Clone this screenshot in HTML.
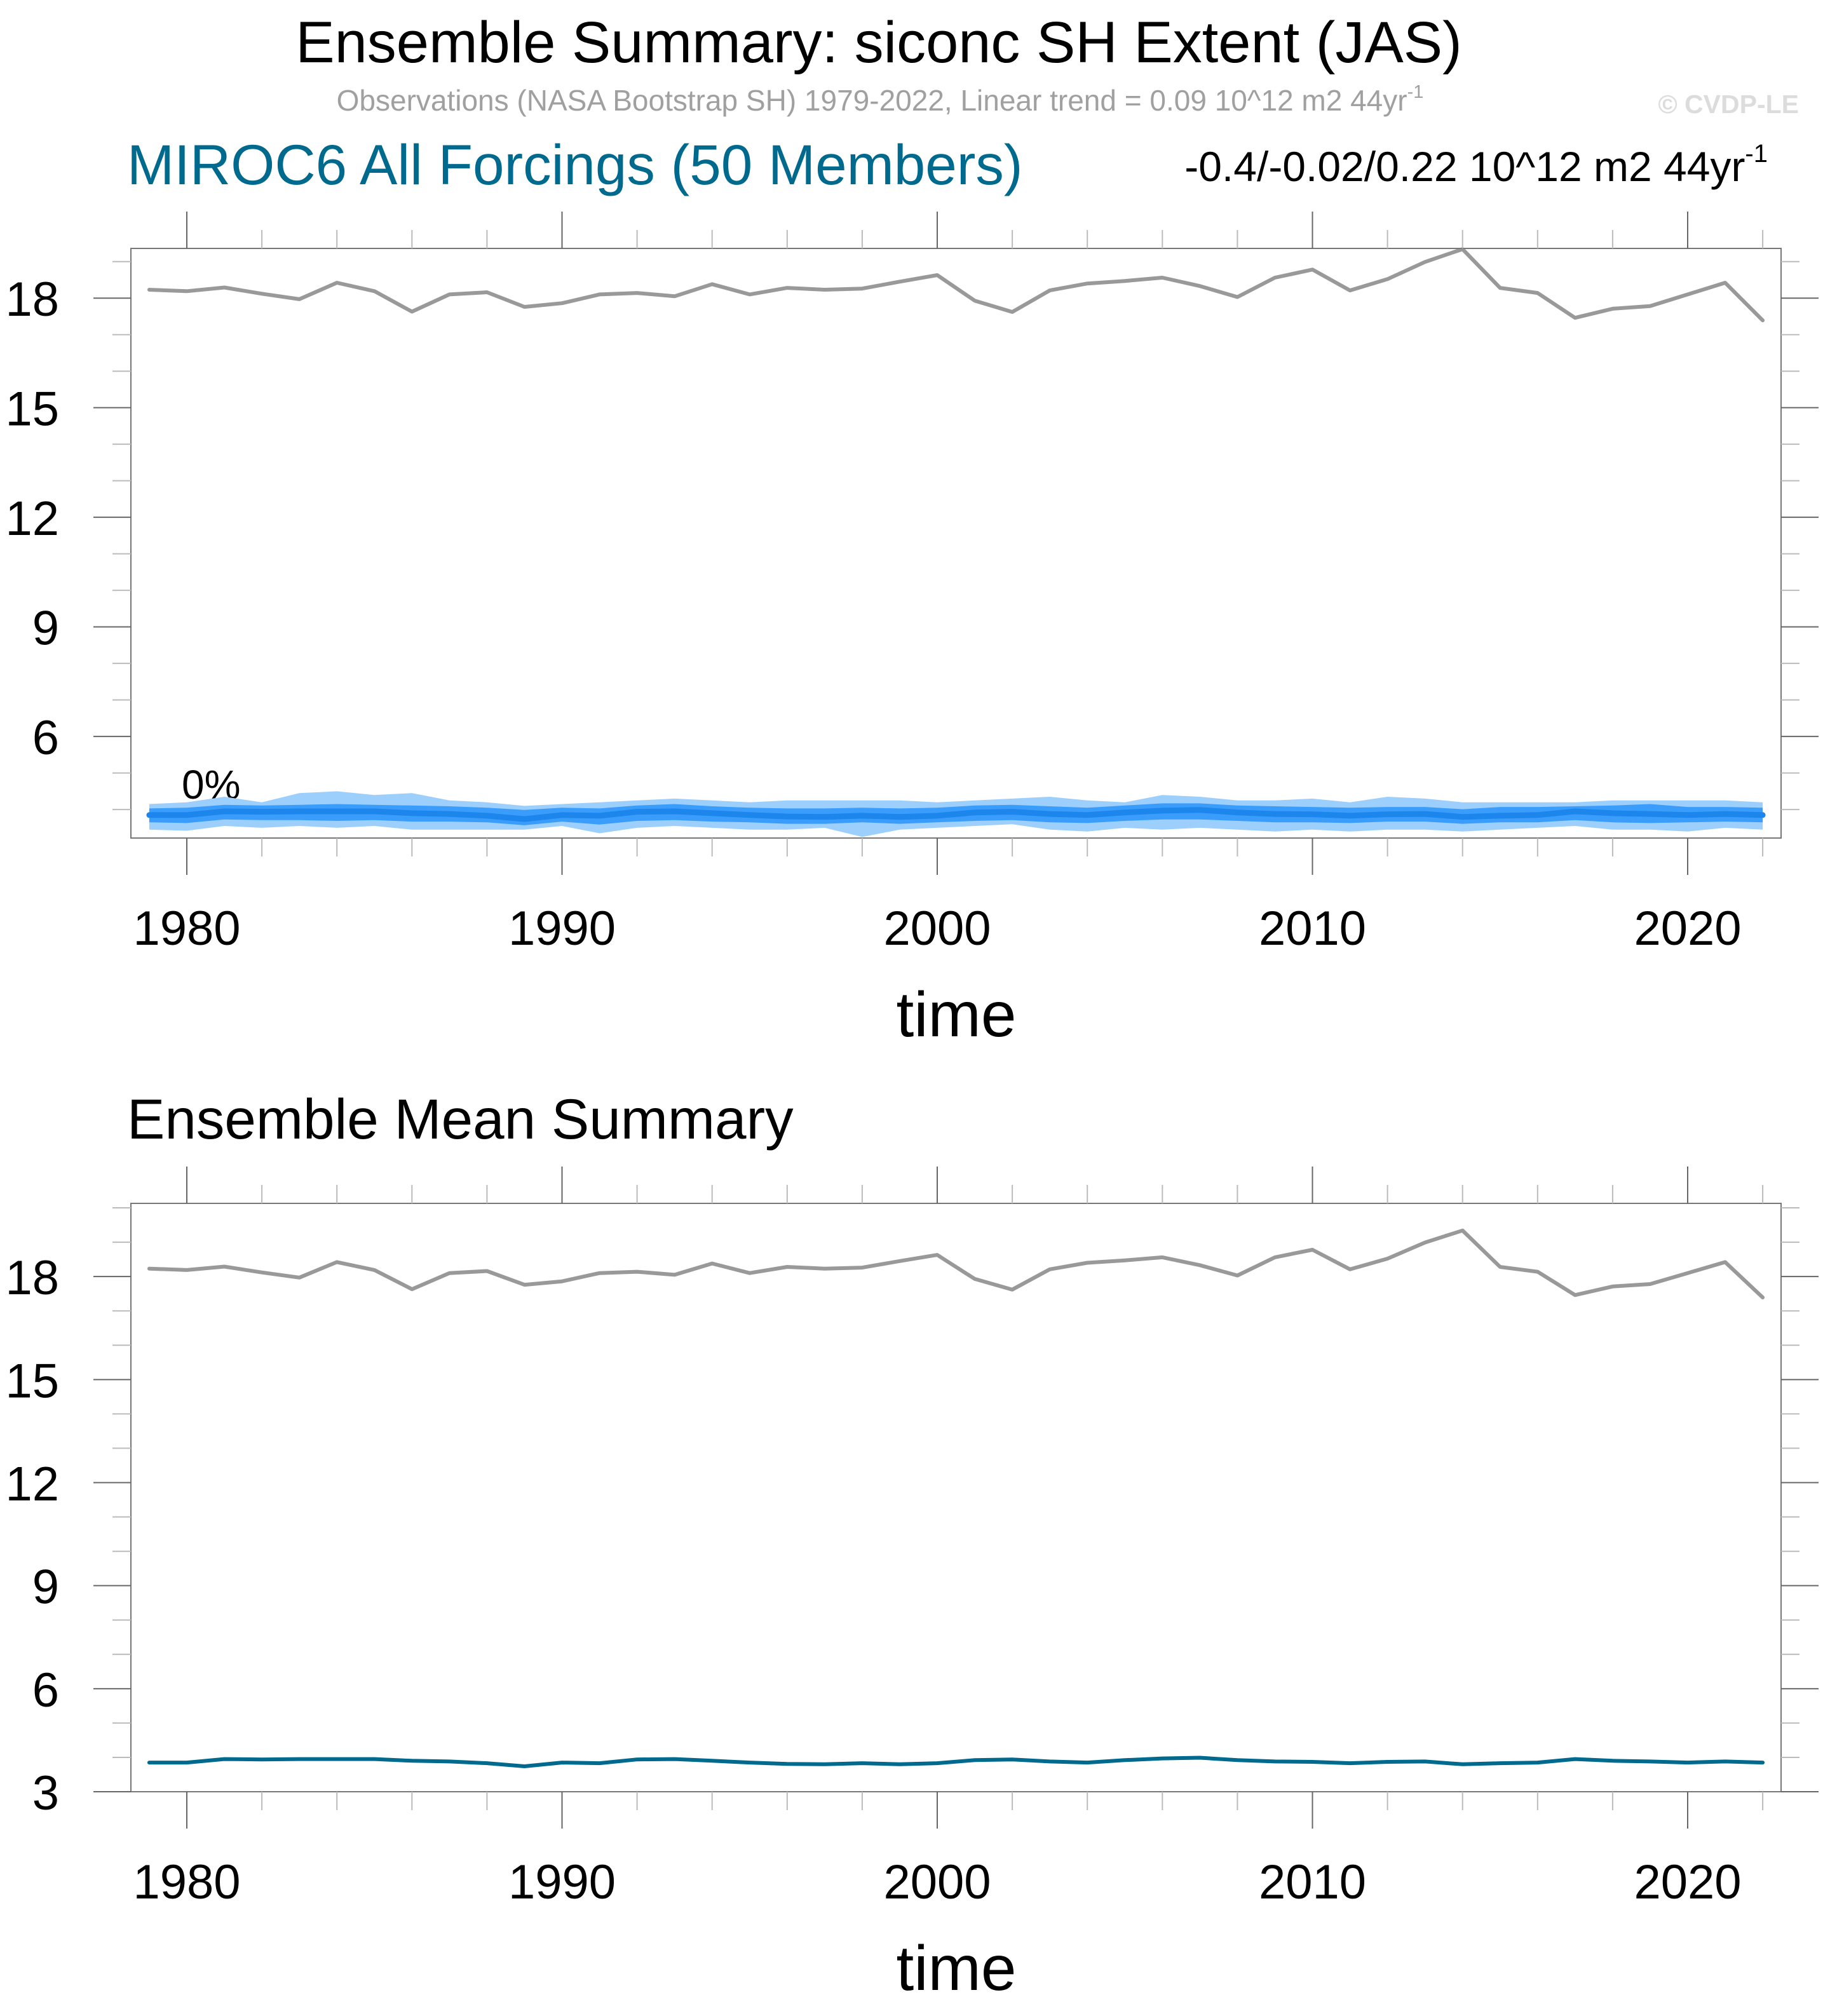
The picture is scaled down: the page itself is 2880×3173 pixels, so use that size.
<!DOCTYPE html>
<html><head><meta charset="utf-8"><style>
html,body{margin:0;padding:0;background:#fff;}
svg{display:block;font-family:"Liberation Sans",sans-serif;}
</style></head><body>
<svg id="chart" width="2880" height="3173" viewBox="0 0 2880 3173" xmlns="http://www.w3.org/2000/svg">
<text x="1383" y="98" font-size="92" text-anchor="middle">Ensemble Summary: siconc SH Extent (JAS)</text>
<text x="1385" y="174" font-size="46" fill="#a0a0a0" text-anchor="middle">Observations (NASA Bootstrap SH) 1979-2022, Linear trend = 0.09 10^12 m2 44yr<tspan dy="-20" font-size="29">-1</tspan></text>
<text x="2831" y="178" font-size="41" font-weight="bold" fill="#dcdcdc" text-anchor="end">© CVDP-LE</text>
<text x="200" y="290" font-size="89" fill="#006a8e">MIROC6 All Forcings (50 Members)</text>
<text x="2782" y="285" font-size="66" text-anchor="end">-0.4/-0.02/0.22 10^12 m2 44yr<tspan dy="-30" font-size="40">-1</tspan></text>
<text x="286" y="1257" font-size="64">0%</text>
<text x="200" y="1792" font-size="89">Ensemble Mean Summary</text>
<g id="p1"></g>
<g id="p2"></g>
</svg>
<script>
const years = [1979,1980,1981,1982,1983,1984,1985,1986,1987,1988,1989,1990,1991,1992,1993,1994,1995,1996,1997,1998,1999,2000,2001,2002,2003,2004,2005,2006,2007,2008,2009,2010,2011,2012,2013,2014,2015,2016,2017,2018,2019,2020,2021,2022];
const obs = [18.23,18.19,18.29,18.12,17.97,18.42,18.19,17.63,18.10,18.16,17.76,17.86,18.10,18.14,18.05,18.38,18.10,18.28,18.23,18.26,18.45,18.63,17.93,17.62,18.21,18.40,18.47,18.56,18.33,18.03,18.56,18.78,18.21,18.52,18.99,19.34,18.28,18.14,17.46,17.71,17.78,18.10,18.42,17.39];
const ensMean = [3.85,3.85,3.95,3.94,3.95,3.95,3.95,3.90,3.88,3.83,3.74,3.85,3.83,3.94,3.95,3.90,3.85,3.81,3.80,3.83,3.80,3.83,3.92,3.94,3.88,3.85,3.92,3.97,3.99,3.92,3.88,3.87,3.83,3.87,3.88,3.80,3.83,3.85,3.95,3.90,3.88,3.85,3.88,3.85];
const ensMax = [4.15,4.2,4.35,4.2,4.45,4.5,4.4,4.45,4.25,4.2,4.1,4.15,4.2,4.25,4.3,4.25,4.2,4.25,4.25,4.25,4.25,4.2,4.25,4.3,4.35,4.25,4.2,4.4,4.35,4.25,4.25,4.3,4.2,4.35,4.3,4.2,4.2,4.2,4.2,4.25,4.25,4.25,4.25,4.2];
const ensMin = [3.45,3.42,3.55,3.5,3.55,3.5,3.55,3.45,3.45,3.45,3.45,3.55,3.35,3.5,3.55,3.5,3.45,3.45,3.5,3.25,3.45,3.5,3.55,3.6,3.45,3.4,3.5,3.45,3.5,3.45,3.4,3.45,3.4,3.45,3.45,3.4,3.45,3.5,3.55,3.45,3.45,3.4,3.5,3.45];
const ensP90 = [4.03,4.05,4.13,4.11,4.13,4.15,4.13,4.11,4.09,4.05,3.99,4.05,4.03,4.11,4.15,4.09,4.05,4.03,4.03,4.05,4.03,4.05,4.11,4.13,4.09,4.05,4.11,4.17,4.17,4.11,4.09,4.07,4.05,4.07,4.07,4.01,4.07,4.07,4.09,4.11,4.15,4.07,4.07,4.05];
const ensP10 = [3.65,3.63,3.73,3.71,3.71,3.69,3.71,3.67,3.67,3.65,3.57,3.67,3.59,3.69,3.71,3.67,3.65,3.61,3.61,3.65,3.61,3.65,3.69,3.71,3.65,3.63,3.69,3.73,3.73,3.69,3.65,3.65,3.63,3.67,3.67,3.61,3.65,3.65,3.71,3.65,3.63,3.65,3.67,3.65];
const yTicks1 = [6,9,12,15,18];
const yTicks2 = [3,6,9,12,15,18];
const xTickYears = [1980,1990,2000,2010,2020];

const NS='http://www.w3.org/2000/svg';
function mk(parent,tag,attrs){const e=document.createElementNS(NS,tag);for(const k in attrs)e.setAttribute(k,attrs[k]);parent.appendChild(e);return e;}
const L=206,R=2803;
const X=y=>294+(y-1980)*59.05;

function drawPlot(g,top,bot,yMin,yMax,yTicks,band){
  const Y=v=>bot-(v-yMin)*(bot-top)/(yMax-yMin);
  const pts=(a)=>a.map((v,i)=>X(years[i]).toFixed(1)+','+Y(v).toFixed(1));
  if(band){
    const outer=mk(g,'polygon',{points:pts(ensMax).concat(pts(ensMin).reverse()).join(' '),fill:'#9dcffc'});
    
    
    const inner=mk(g,'polygon',{points:pts(ensP90).concat(pts(ensP10).reverse()).join(' '),fill:'#3a9dfc'});
    
    
    const ml=mk(g,'polyline',{points:pts(ensMean).join(' '),fill:'none',stroke:'#1c86ec','stroke-width':9,'stroke-linejoin':'round','stroke-linecap':'round'});
    
    
  } else {
    const ml=mk(g,'polyline',{points:pts(ensMean).join(' '),fill:'none',stroke:'#006a8e','stroke-width':6,'stroke-linejoin':'round','stroke-linecap':'round'});
    
    
  }
  const ol=mk(g,'polyline',{points:pts(obs).join(' '),fill:'none',stroke:'#999999','stroke-width':6,'stroke-linejoin':'round','stroke-linecap':'round'});
  
  
  const fr=mk(g,'rect',{x:L,y:top,width:R-L,height:bot-top,fill:'none',stroke:'#777','stroke-width':2});
  
  
  for(let yr=1979;yr<=2022;yr++){
    const x=X(yr); const major=yr%10===0; const minor=yr%2===0;
    if(!major&&!minor) continue;
    const len=major?58:29;
    mk(g,'line',{x1:x,x2:x,y1:top,y2:top-len,stroke:major?'#666':'#bbb','stroke-width':2});
    mk(g,'line',{x1:x,x2:x,y1:bot,y2:bot+len,stroke:major?'#666':'#bbb','stroke-width':2});
  }
  xTickYears.forEach(yr=>{
    const t=mk(g,'text',{x:X(yr),y:bot+168,'font-size':76,'text-anchor':'middle'});
    t.textContent=yr;
    
    
  });
  for(let v=Math.ceil(yMin);v<=yMax;v++){
    const y=Y(v); const major=yTicks.includes(v);
    const len=major?59:29;
    mk(g,'line',{x1:L,x2:L-len,y1:y,y2:y,stroke:major?'#666':'#bbb','stroke-width':2});
    mk(g,'line',{x1:R,x2:R+len,y1:y,y2:y,stroke:major?'#666':'#bbb','stroke-width':2});
  }
  yTicks.forEach(v=>{
    const t=mk(g,'text',{x:93,y:Y(v)+28,'font-size':76,'text-anchor':'end'});
    t.textContent=v;
    
    
  });
  const tt=mk(g,'text',{x:1505,y:bot+312,'font-size':100,'text-anchor':'middle'});
  tt.textContent='time';
  
  
}
drawPlot(document.getElementById('p1'),391,1319,3.22,19.36,yTicks1,true);
drawPlot(document.getElementById('p2'),1894,2820,3,20.13,yTicks2,false);
</script>
</body></html>
